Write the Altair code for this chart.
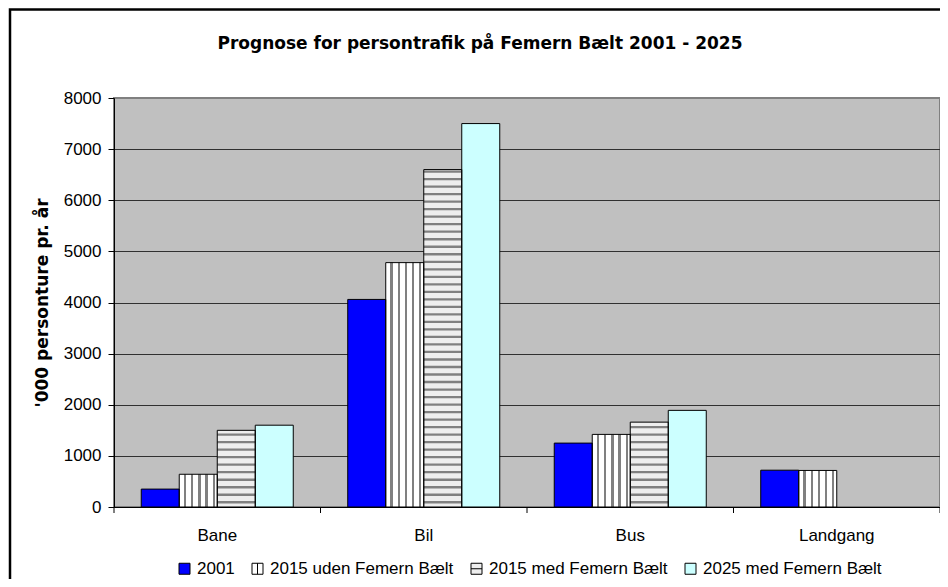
import altair as alt
import pandas as pd

# ---------------- data ----------------
categories = ["Bane", "Bil", "Bus", "Landgang"]
series = ["2001", "2015 uden Femern Bælt", "2015 med Femern Bælt", "2025 med Femern Bælt"]
v_2001 = [350, 4060, 1250, 720]
v_2015_uden = [640, 4780, 1420, 715]
v_2015_med = [1500, 6600, 1660, None]
v_2025_med = [1600, 7500, 1890, None]
y_ticks = [0, 1000, 2000, 3000, 4000, 5000, 6000, 7000, 8000]
title_text = "Prognose for persontrafik på Femern Bælt 2001 - 2025"
y_title = "'000 personture pr. år"

rows = []
for s, vals in zip(series, [v_2001, v_2015_uden, v_2015_med, v_2025_med]):
    for c, v in zip(categories, vals):
        if v is not None:
            rows.append({"category": c, "series": s, "value": v})
df = pd.DataFrame(rows)

# horizontal hatch stripes for "2015 med Femern Bælt" (decoration derived from values)
STEP, THICK, START = 147, 45, 70
srows = []
for r in df[df["series"] == series[2]].itertuples():
    y0 = START
    while y0 < r.value:
        srows.append({"category": r.category, "series": r.series,
                      "y0": y0, "y1": min(y0 + THICK, r.value)})
        y0 += STEP
sdf = pd.DataFrame(srows)

W, H = 826, 409
FONT = "Liberation Sans"
BOLD_FONT = "DejaVu Sans"

x_scale = alt.Scale(domain=categories, paddingInner=0, paddingOuter=0)
x_axis = alt.Axis(title=None, ticks=False, labelAngle=0, labelFontSize=17,
                  labelFont=FONT, labelColor="black", labelPadding=20,
                  domainColor="black", domainWidth=1, grid=False)


def x_enc(bp=None):
    if bp is None:
        return alt.X("category:N", scale=x_scale, axis=x_axis, title=None)
    return alt.X("category:N", scale=x_scale, axis=x_axis, title=None, bandPosition=bp)


xoff = alt.XOffset("series:N", scale=alt.Scale(domain=series, paddingInner=0, paddingOuter=0.717))
y_scale = alt.Scale(domain=[0, 8000], nice=False)
y_axis = alt.Axis(values=y_ticks, title=y_title, format="d", grid=True,
                  gridColor={"condition": {"test": "datum.value == 8000", "value": "#808080"},
                             "value": "#303030"},
                  gridWidth=1, tickSize=6, tickColor="black", labelFontSize=17,
                  labelFont=FONT, labelColor="black", labelPadding=7,
                  domainColor="black", titleFontSize=17, titleFont=BOLD_FONT,
                  titleFontWeight="bold", titleColor="black", titlePadding=12)


def y_enc(field="value"):
    return alt.Y(f"{field}:Q", scale=y_scale, axis=y_axis, title=y_title)


fill_colors = ["#0000ff", "#ffffff", "#eeeeee", "#ccffff"]
fill_enc = alt.Fill("series:N", scale=alt.Scale(domain=series, range=fill_colors), title=None)

# frame around the whole chart
frame = alt.Chart(pd.DataFrame({"f": [0]})).mark_rect(
    fillOpacity=0, stroke="black", strokeWidth=2.5
).encode(x=alt.value(-104), x2=alt.value(W + 60), y=alt.value(-88.5), y2=alt.value(H + 120))

base = alt.Chart(df).mark_bar(strokeWidth=0).encode(
    x=x_enc(), xOffset=xoff, y=y_enc(), fill=fill_enc
)

stops = [alt.GradientStop(offset=0, color="#ffffff")]
for c in [0.15, 0.34, 0.53, 0.72, 0.91]:
    stops += [alt.GradientStop(offset=c - 0.03, color="#ffffff"),
              alt.GradientStop(offset=c - 0.03, color="#808080"),
              alt.GradientStop(offset=c + 0.03, color="#808080"),
              alt.GradientStop(offset=c + 0.03, color="#ffffff")]
stops.append(alt.GradientStop(offset=1, color="#ffffff"))
vgrad = alt.LinearGradient(gradient="linear", stops=stops, x1=0, x2=1, y1=0, y2=0)

vstripes = alt.Chart(df).mark_bar(fill=vgrad, strokeWidth=0).encode(
    x=x_enc(), xOffset=xoff, y=y_enc()
).transform_filter(alt.datum.series == series[1])

hstripes = alt.Chart(sdf).mark_bar(fill="#808080", strokeWidth=0).encode(
    x=x_enc(), xOffset=xoff, y=y_enc("y0"), y2="y1:Q"
)

outline = alt.Chart(df).mark_bar(fillOpacity=0, stroke="black", strokeWidth=1).encode(
    x=x_enc(), xOffset=xoff, y=y_enc()
)

tick_df = pd.DataFrame({"category": categories})
ticks = alt.Chart(tick_df).mark_rule(color="black", strokeWidth=1).encode(
    x=x_enc(0), y=alt.value(H), y2=alt.value(H + 6)
)
last_tick = alt.Chart(tick_df).mark_rule(color="black", strokeWidth=1).encode(
    x=x_enc(1), y=alt.value(H), y2=alt.value(H + 6)
).transform_filter(alt.datum.category == categories[-1])

shape_range = ["square", "M-1,-1H1V1H-1Z M0,-1V1", "M-1,-1H1V1H-1Z M-1,0H1", "square"]
leg = alt.Legend(orient="none", legendX=62, legendY=462, direction="horizontal", labelLimit=0)
legend_pts = alt.Chart(df).mark_point(filled=True, stroke="black", strokeWidth=1, opacity=1).encode(
    x=x_enc(), xOffset=xoff, y=y_enc(),
    fill=alt.Fill("series:N", scale=alt.Scale(domain=series, range=fill_colors), title=None, legend=leg),
    shape=alt.Shape("series:N", scale=alt.Scale(domain=series, range=shape_range), title=None, legend=leg),
).transform_filter("false")

title = alt.Chart(pd.DataFrame({"t": [title_text]})).mark_text(
    font=BOLD_FONT, fontSize=17, fontWeight="bold", color="black", align="center", baseline="alphabetic"
).encode(text="t:N", x=alt.value(366), y=alt.value(-49))

chart = alt.layer(frame, base, vstripes, hstripes, outline, ticks, last_tick, legend_pts, title).properties(
    width=W, height=H,
    padding={"left": 106, "top": 90, "right": 0, "bottom": 72},
    autosize=alt.AutoSizeParams(type="none"),
).configure(font=FONT).configure_view(
    fill="#c0c0c0", stroke="#808080", strokeWidth=2
).configure_legend(
    labelFontSize=17, labelFont=FONT, labelColor="black", symbolSize=121, labelLimit=0,
    symbolStrokeColor="black", symbolStrokeWidth=1, columnPadding=14, labelOffset=4,
    padding=0
)

chart.save("out.html", embed_options={"renderer": "svg", "actions": False})
